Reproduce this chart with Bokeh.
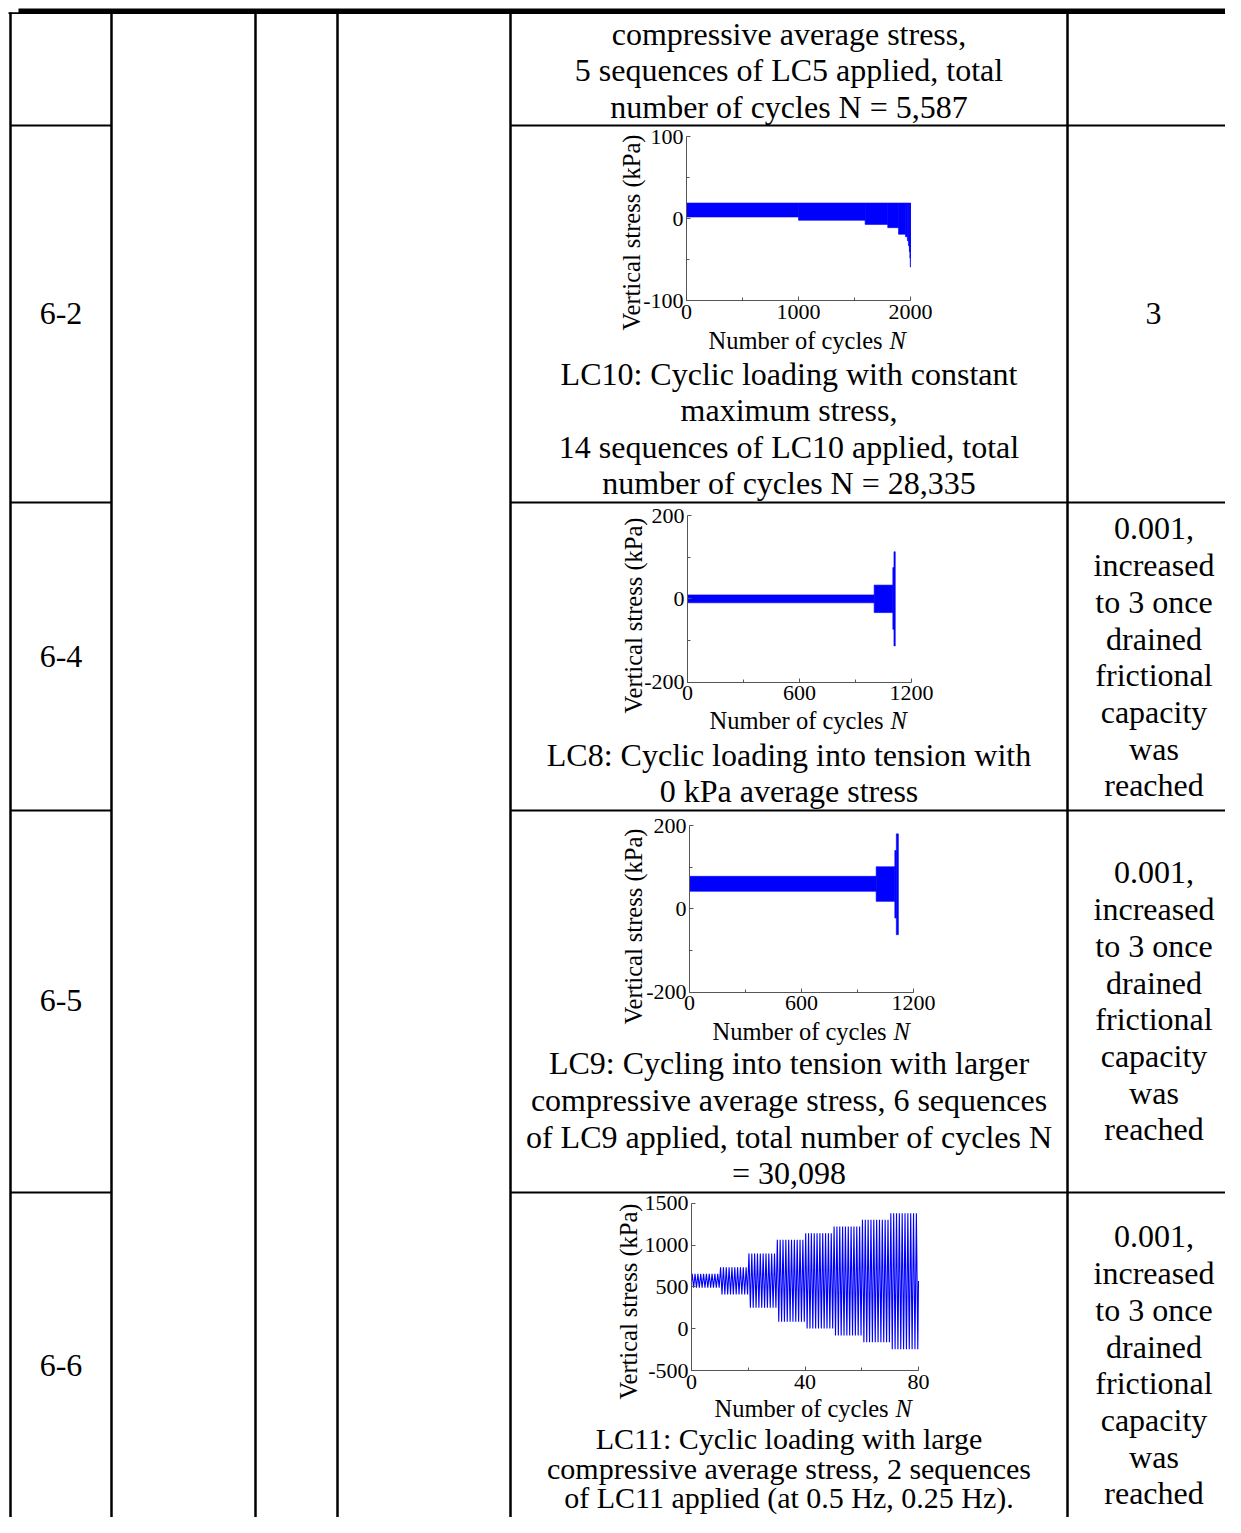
import numpy as np
from bokeh.plotting import figure
from bokeh.models import Range1d, LinearAxis, FixedTicker
from bokeh.core.properties import value
from bokeh.embed import file_html
from bokeh.resources import INLINE

FONT = "Liberation Serif"
BLUE = "#0000ff"

# ---------------- data ----------------
# LC10 (specimen 6-2): cycle blocks (start N, end N, min stress, max stress) in kPa
lc10_start = [0, 1000, 1595, 1797, 1893, 1955, 1972, 1982, 1990, 1995, 1998]
lc10_end = [1000, 1595, 1797, 1893, 1955, 1972, 1982, 1990, 1995, 1998, 2000]
lc10_min = [2, -2, -7, -11, -19, -22, -27, -33, -40, -48, -59]
lc10_max = [19, 19, 19, 19, 19, 19, 19, 19, 19, 19, 19]

# LC8 (specimen 6-4)
lc8_start = [0, 1000, 1100, 1106]
lc8_end = [1000, 1100, 1106, 1113]
lc8_min = [-9.5, -33, -73, -113]
lc8_max = [9.5, 33, 75, 113]

# LC9 (specimen 6-5)
lc9_start = [0, 1000, 1100, 1108]
lc9_end = [1000, 1100, 1108, 1119]
lc9_min = [42, 18, -22, -62]
lc9_max = [78, 101, 140, 180]

# LC11 (specimen 6-6): 8 blocks of 10 cycles each
lc11_cycles_per_block = 10
lc11_max = [655, 735, 900, 1062, 1141, 1221, 1301, 1381]
lc11_min = [490, 409, 250, 82, 2, -81, -161, -245]
lc11_start_value = 572
lc11_end_value = 570

# axis ticks
lc10_xticks, lc10_xminor = [0, 1000, 2000], [500, 1500]
lc10_yticks, lc10_yminor = [-100, 0, 100], [-50, 50]
lc8_xticks, lc8_xminor = [0, 600, 1200], [300, 900]
lc8_yticks, lc8_yminor = [-200, 0, 200], [-100, 100]
lc11_xticks, lc11_xminor = [0, 40, 80], [20, 60]
lc11_yticks, lc11_yminor = [-500, 0, 500, 1000, 1500], []

# table texts
specimens = ["6-2", "6-4", "6-5", "6-6"]
specimen_y = [313, 656, 1000, 1365]

caption_lines = [
    "compressive average stress,",
    "5 sequences of LC5 applied, total",
    "number of cycles N = 5,587",
    "LC10: Cyclic loading with constant",
    "maximum stress,",
    "14 sequences of LC10 applied, total",
    "number of cycles N = 28,335",
    "LC8: Cyclic loading into tension with",
    "0 kPa average stress",
    "LC9: Cycling into tension with larger",
    "compressive average stress, 6 sequences",
    "of LC9 applied, total number of cycles N",
    "= 30,098",
]
caption_y = [33, 69, 106, 373, 409, 446, 482, 754, 790, 1062, 1099, 1136, 1172]

last_caption_lines = [
    "LC11: Cyclic loading with large",
    "compressive average stress, 2 sequences",
    "of LC11 applied (at 0.5 Hz, 0.25 Hz).",
]
last_caption_y = [1438, 1468, 1497]

rate_words = ["0.001,", "increased", "to 3 once", "drained", "frictional", "capacity", "was", "reached"]
rate_first_y = [528, 872, 1236]
rate_step = 36.7
single_rate = "3"
single_rate_y = 313

# ---------------- figure ----------------
W, H = 1225, 1517
PX0, PX1 = 0, W
PY0, PY1 = 0, H

p = figure(width=W, height=H, x_range=Range1d(PX0, PX1), y_range=Range1d(PY1, PY0),
           x_axis_location=None, y_axis_location=None, toolbar_location=None,
           output_backend="svg", min_border=0, outline_line_color=None,
           background_fill_color="white", border_fill_color="white")
p.xgrid.grid_line_color = None
p.ygrid.grid_line_color = None

# table rules
vx = [10, 111, 255, 337, 510, 1067]
p.segment(x0=vx, y0=[12] * len(vx), x1=vx, y1=[PY1 + 5] * len(vx), line_color="black", line_width=2.5)
hy = [125, 502, 810, 1192]
p.segment(x0=[10] * 4 + [510] * 4, y0=hy + hy, x1=[111] * 4 + [1245] * 4, y1=hy + hy,
          line_color="black", line_width=2.2)
p.segment(x0=[18], y0=[10.3], x1=[1230], y1=[10.3], line_color="black", line_width=4.5)
p.segment(x0=[8], y0=[12.6], x1=[1245], y1=[12.6], line_color="black", line_width=1.6)

def txt(xs, ys, texts, size="32px", align="center", style="normal", angle=0.0):
    p.text(x=xs, y=ys, text=texts, text_font=value(FONT), text_font_size=size,
           text_align=align, text_baseline="middle", text_color="black",
           text_font_style=style, angle=angle)

txt([60.5] * len(specimens), specimen_y, specimens)
txt([788.5] * len(caption_lines), caption_y, caption_lines)
txt([788.5] * len(last_caption_lines), last_caption_y, last_caption_lines, size="30px")
txt([1153], [single_rate_y], [single_rate])
rx, ry, rt = [], [], []
for y0 in rate_first_y:
    for i, w in enumerate(rate_words):
        rx.append(1153.5)
        ry.append(y0 + i * rate_step)
        rt.append(w)
txt(rx, ry, rt)

# ---------------- mini charts ----------------
def xrange_for(fx0, fx1, d0, d1):
    k = (d1 - d0) / (fx1 - fx0)
    return Range1d(d0 - (fx0 - PX0) * k, d0 + (PX1 - fx0) * k)

def yrange_for(fy_top, fy_bot, dmin, dmax):
    k = (dmax - dmin) / (fy_bot - fy_top)
    return Range1d(dmin - (PY1 - fy_bot) * k, dmax + (fy_top - PY0) * k)

charts = [
    dict(n="c1", fx=(686, 910), fy=(136, 300.3), xr=(0, 2000), yr=(-100, 100),
         xt=lc10_xticks, xm=lc10_xminor, yt=lc10_yticks, ym=lc10_yminor,
         blocks=(lc10_start, lc10_end, lc10_min, lc10_max), ylab=(631, 232), xlab=(708, 340)),
    dict(n="c2", fx=(687, 911), fy=(515, 681.7), xr=(0, 1200), yr=(-200, 200),
         xt=lc8_xticks, xm=lc8_xminor, yt=lc8_yticks, ym=lc8_yminor,
         blocks=(lc8_start, lc8_end, lc8_min, lc8_max), ylab=(633, 615), xlab=(709, 720)),
    dict(n="c3", fx=(689, 913), fy=(825, 991.7), xr=(0, 1200), yr=(-200, 200),
         xt=lc8_xticks, xm=lc8_xminor, yt=lc8_yticks, ym=lc8_yminor,
         blocks=(lc9_start, lc9_end, lc9_min, lc9_max), ylab=(633, 926), xlab=(712, 1031)),
    dict(n="c4", fx=(691, 918), fy=(1202.7, 1370), xr=(0, 80), yr=(-500, 1500),
         xt=lc11_xticks, xm=lc11_xminor, yt=lc11_yticks, ym=lc11_yminor,
         blocks=None, ylab=(628, 1301), xlab=(714, 1408)),
]

exx, exy = {}, {}
for c in charts:
    exx[c["n"] + "x"] = xrange_for(c["fx"][0], c["fx"][1], *c["xr"])
    exy[c["n"] + "y"] = yrange_for(c["fy"][0], c["fy"][1], *c["yr"])
p.extra_x_ranges = exx
p.extra_y_ranges = exy

AX_COLOR = "#555555"
for c in charts:
    xn, yn = c["n"] + "x", c["n"] + "y"
    xa = LinearAxis(x_range_name=xn, y_range_name=yn, fixed_location=c["yr"][0],
                    bounds=c["xr"], ticker=FixedTicker(ticks=c["xt"], minor_ticks=c["xm"]),
                    major_label_overrides={t: str(t) for t in c["xt"]})
    ya = LinearAxis(x_range_name=xn, y_range_name=yn, fixed_location=c["xr"][0],
                    bounds=c["yr"], ticker=FixedTicker(ticks=c["yt"], minor_ticks=c["ym"]),
                    major_label_overrides={t: str(t) for t in c["yt"]})
    for a, so in ((xa, 4), (ya, 3)):
        a.axis_line_color = AX_COLOR
        a.axis_line_width = 1
        a.major_tick_line_color = AX_COLOR
        a.minor_tick_line_color = AX_COLOR
        a.major_tick_in = 4
        a.major_tick_out = 0
        a.minor_tick_in = 3
        a.minor_tick_out = 0
        a.major_label_standoff = so
        a.major_label_text_font = FONT
        a.major_label_text_font_size = "22px"
        a.major_label_text_color = "black"
    p.add_layout(xa, "below")
    p.add_layout(ya, "left")

    if c["blocks"] is not None:
        s, e, lo, hi = c["blocks"]
        p.quad(left=s, right=e, bottom=lo, top=hi, x_range_name=xn, y_range_name=yn,
               fill_color=BLUE, line_color=BLUE, line_width=0.6)

    # axis titles
    txt([c["ylab"][0]], [c["ylab"][1]], ["Vertical stress (kPa)"], size="24.5px", angle=np.pi / 2)
    txt([c["xlab"][0]], [c["xlab"][1]], ["Number of cycles"], size="24.5px", align="left")
    txt([c["xlab"][0] + 181], [c["xlab"][1]], ["N"], size="24.5px", align="left", style="italic")

# LC11 cyclic trace built from block peaks/troughs
lc11_x = [0.0]
lc11_y = [lc11_start_value]
for b in range(len(lc11_max)):
    for j in range(lc11_cycles_per_block):
        k = b * lc11_cycles_per_block + j
        lc11_x += [k + 0.25, k + 0.75]
        lc11_y += [lc11_max[b], lc11_min[b]]
lc11_x.append(float(len(lc11_max) * lc11_cycles_per_block))
lc11_y.append(lc11_end_value)
p.line(x=lc11_x, y=lc11_y, x_range_name="c4x", y_range_name="c4y", line_color=BLUE, line_width=1.1)

open("out.html", "w").write(file_html(p, INLINE))
